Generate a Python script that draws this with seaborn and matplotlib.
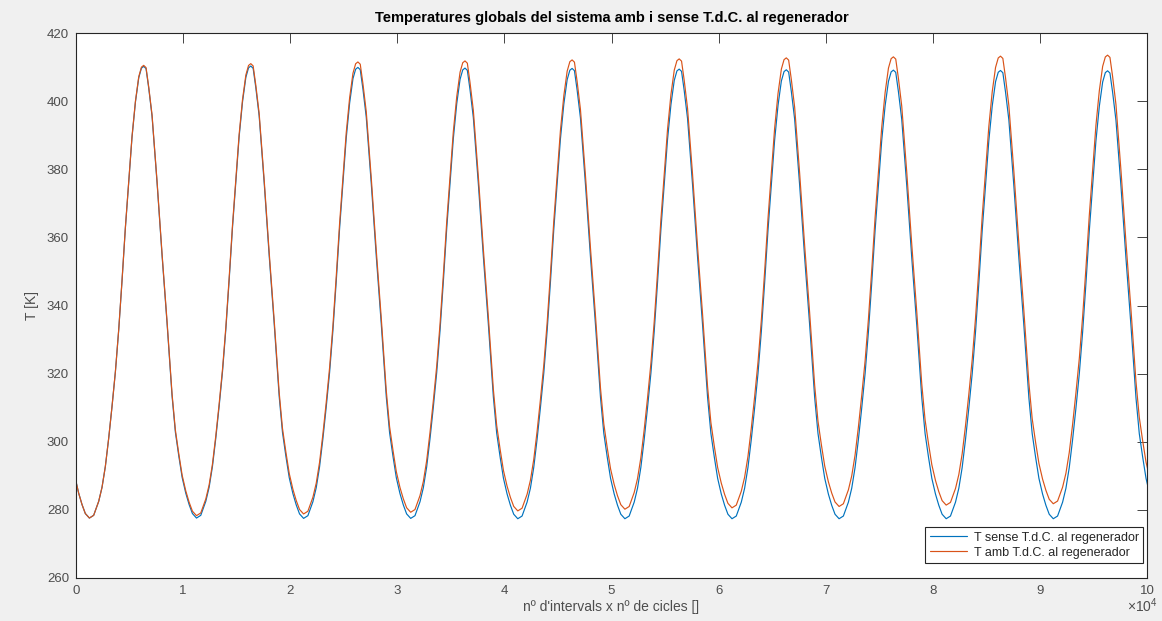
import numpy as np
import pandas as pd
import matplotlib
matplotlib.use("Agg")
import matplotlib.pyplot as plt
import seaborn as sns
from matplotlib.ticker import FuncFormatter

# ---------------- data ----------------
period = 10000          # intervals per cycle
first_trough = 1250     # x position of first minimum

# one cycle (trough -> peak -> trough), phase in cycle fraction, normalised temperature
cycle_phase = [0.000, 0.040, 0.087, 0.118, 0.149, 0.180, 0.211, 0.243, 0.274, 0.305,
               0.336, 0.367, 0.398, 0.430, 0.461, 0.486, 0.507, 0.529, 0.554, 0.585,
               0.610, 0.632, 0.654, 0.679, 0.701, 0.725, 0.747, 0.772, 0.803, 0.835,
               0.866, 0.900, 0.931, 0.962, 1.000]
cycle_shape = [0.000, 0.006, 0.037, 0.068, 0.114, 0.176, 0.246, 0.324, 0.417, 0.526,
               0.642, 0.742, 0.843, 0.921, 0.975, 0.996, 1.000, 0.995, 0.952, 0.890,
               0.812, 0.742, 0.665, 0.580, 0.510, 0.432, 0.355, 0.270, 0.190, 0.137,
               0.090, 0.055, 0.030, 0.010, 0.000]
peak_phase = 0.507

# per-cycle extremes [K]
trough_blue = [277.6, 277.6, 277.5, 277.5, 277.4, 277.4, 277.4, 277.4, 277.4, 277.4, 277.4]
peak_blue = [410.2, 410.3, 409.9, 409.7, 409.6, 409.4, 409.2, 409.1, 409.0, 408.9]
trough_orange = [277.6, 278.3, 278.8, 279.3, 279.7, 280.2, 280.6, 281.0, 281.4, 281.8, 282.2]
peak_orange = [410.5, 411.0, 411.5, 411.8, 412.1, 412.4, 412.7, 413.0, 413.2, 413.5]

series_names = ["T sense T.d.C. al regenerador", "T amb T.d.C. al regenerador"]
x_ticks = list(range(0, 11))
y_ticks = list(range(260, 421, 20))


def build(troughs, peaks):
    xs, ys = [], []
    n_cycles = len(peaks)
    for k in range(-1, n_cycles):
        for p, s in zip(cycle_phase, cycle_shape):
            if k == -1 and p < peak_phase:
                continue
            if p <= peak_phase:
                lo, hi = troughs[k], peaks[k]
            else:
                kk = max(k, 0)
                lo, hi = troughs[k + 1], peaks[kk]
            xs.append(first_trough + (k + p) * period)
            ys.append(lo + s * (hi - lo))
    return xs, ys


xb, yb = build(trough_blue, peak_blue)
xo, yo = build(trough_orange, peak_orange)
df = pd.concat([
    pd.DataFrame({"x": xb, "T": yb, "serie": series_names[0]}),
    pd.DataFrame({"x": xo, "T": yo, "serie": series_names[1]}),
], ignore_index=True)

# ---------------- style ----------------
sns.set_theme(style="white")
plt.rcParams["font.family"] = ["Liberation Sans", "DejaVu Sans"]
plt.rcParams["mathtext.fontset"] = "custom"
plt.rcParams["mathtext.rm"] = "Liberation Sans"

ink = "#262626"
fig = plt.figure(figsize=(11.62, 6.21), dpi=100, facecolor="#f0f0f0")
ax = fig.add_axes([76 / 1162, 1 - 578 / 621, (1147 - 76) / 1162, (578 - 33) / 621])
ax.set_facecolor("white")

sns.lineplot(data=df, x="x", y="T", hue="serie", hue_order=series_names,
             palette=["#0072BD", "#D95319"], estimator=None, sort=False,
             linewidth=0.85, ax=ax)

ax.set_xlim(0, 100000)
ax.set_ylim(260, 420)
ax.set_xticks([t * 10000 for t in x_ticks])
ax.xaxis.set_major_formatter(FuncFormatter(lambda v, _: f"{v / 1e4:g}"))
ax.set_yticks(y_ticks)
ax.tick_params(direction="in", top=True, right=True, length=7, width=0.6,
               colors=ink, labelcolor="#4d4d4d", labelsize=9.5, pad=5)
for sp in ax.spines.values():
    sp.set_color(ink)
    sp.set_linewidth(0.8)

ax.set_xlabel("nº d'intervals x nº de cicles []", fontsize=10, color="#4d4d4d", labelpad=2)
ax.set_ylabel("T [K]", fontsize=10, color="#4d4d4d", labelpad=6)
ax.set_title("Temperatures globals del sistema amb i sense T.d.C. al regenerador",
             fontsize=10.5, fontweight="bold", color="black", pad=8)

fig.text(1158 / 1162, 1 - 606 / 621, r"$\times10^{4}$", ha="right", va="center",
         fontsize=10, color="#4d4d4d")

leg = ax.legend(loc="lower right", bbox_to_anchor=(0.9963, 0.0275), borderaxespad=0,
                fontsize=9, frameon=True, fancybox=False, handlelength=3.0,
                borderpad=0.35, labelspacing=0.25, handletextpad=0.5, title=None)
leg.get_frame().set_edgecolor(ink)
leg.get_frame().set_linewidth(0.8)
leg.get_frame().set_facecolor("white")
leg.get_frame().set_alpha(1.0)

fig.savefig("out.png", dpi=100, facecolor=fig.get_facecolor())
